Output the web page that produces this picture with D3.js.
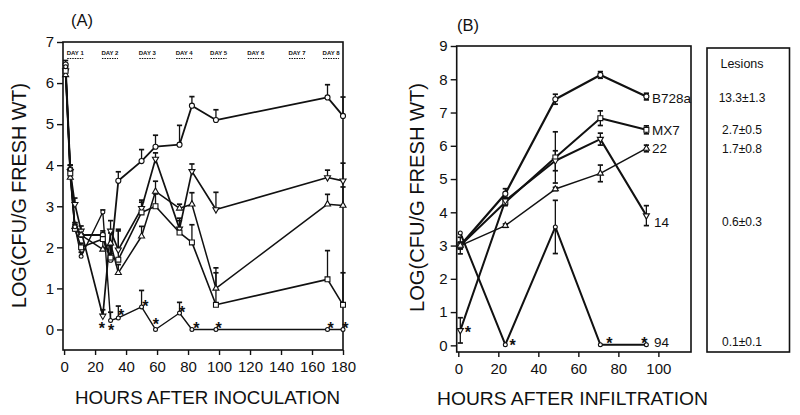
<!DOCTYPE html>
<html><head><meta charset="utf-8">
<script src="https://cdn.jsdelivr.net/npm/d3@7"></script>
<style>
body{margin:0;background:#fff;}
svg{display:block;font-family:"Liberation Sans",Arial,Helvetica,sans-serif;}
</style></head><body>
<svg id="chart" width="800" height="415"></svg>
<script>
// ---------------- DATA ----------------
// Panel A: hours after inoculation
const timesA = [1, 4, 7, 11, 25, 30, 35, 50, 59, 74.5, 82.5, 98, 170, 180];
const aB728a    = [6.45, 3.9, 2.45, 2.3, 2.3, 1.7, 3.62, 4.1, 4.45, 4.5, 5.45, 5.1, 5.65, 5.2];
const aB728aErr = [0.1, 0.1, 0.1, 0.1, 0.1, 0.15, 0.22, 0.28, 0.28, 0.47, 0.22, 0.25, 0.31, 0.46];
const a14       = [6.3, 3.85, 3.05, 2.4, 0.33, 2.4, 1.94, 2.95, 4.15, 2.45, 3.85, 2.92, 3.7, 3.62];
const a14Err    = [0.1, 0.15, 0.15, 0.12, 0.15, 0.25, 0.5, 0.2, 0.15, 0.2, 0.18, 0.42, 0.18, 0.43];
const a22       = [6.2, 3.7, 2.5, 2.3, 1.95, 2.1, 1.38, 2.27, 3.36, 2.95, 3.05, 1.0, 3.05, 3.02];
const a22Err    = [0.1, 0.1, 0.1, 0.12, 0.2, 0.25, 0.2, 0.24, 0.25, 0.1, 0.28, 0.5, 0.24, 0.45];
const aMX7      = [6.3, 3.8, 2.45, 2.0, 2.2, 1.75, 1.7, 2.85, 3.0, 2.36, 2.12, 0.6, 1.22, 0.6];
const aMX7Err   = [0.1, 0.1, 0.1, 0.1, 0.15, 0.3, 0.7, 0.25, 0.3, 0.35, 0.43, 0.78, 0.7, 0.78];
const a94       = [6.4, 3.9, 2.5, 1.78, 2.86, 0.22, 0.28, 0.55, 0, 0.4, 0, 0, 0, 0];
const a94Err    = [0.05, 0.1, 0.1, 0.1, 0.05, 0.2, 0.29, 0.4, 0, 0.26, 0, 0, 0, 0];
const starsA = [[24.4, 0.12], [30.4, 0.05], [36.8, 0.42], [52.5, 0.65], [59.2, 0.2],
                [76.2, 0.5], [85.3, 0.12], [99.8, 0.12], [172, 0.12], [181.5, 0.12]];
const dayLabels = ["DAY 1", "DAY 2", "DAY 3", "DAY 4", "DAY 5", "DAY 6", "DAY 7", "DAY 8"];
const dayHours  = [7.2, 29.6, 53.7, 77.5, 99.7, 123.7, 150.3, 172.3];
const ticksAx = [0, 20, 40, 60, 80, 100, 120, 140, 160, 180];
const ticksAy = [0, 1, 2, 3, 4, 5, 6, 7];

// Panel B: hours after infiltration
const timesB = [1, 23.5, 48.5, 71, 94];
const bB728a    = [3.0, 4.56, 7.4, 8.13, 7.48];
const bB728aErr = [0.1, 0.15, 0.15, 0.1, 0.1];
const bMX7      = [3.0, 4.3, 5.65, 6.83, 6.48];
const bMX7Err   = [0.25, 0.1, 0.77, 0.22, 0.12];
const b22       = [3.0, 3.6, 4.7, 5.17, 5.92];
const b22Err    = [0.1, 0.05, 0.05, 0.25, 0.1];
const b14       = [0.45, 4.35, 5.55, 6.2, 3.9];
const b14Err    = [0.38, 0.1, 0.3, 0.18, 0.3];
const b94       = [3.38, 0.02, 3.56, 0.02, 0.02];
const b94Err    = [0, 0, 0.8, 0, 0];
const starsB = [[4.8, 0.48], [27.2, 0.1], [75.5, 0.17], [93.0, 0.17]];
const strainLabels = ["B728a", "MX7", "22", "14", "94"];
const lesions = ["13.3\u00b11.3", "2.7\u00b10.5", "1.7\u00b10.8", "0.6\u00b10.3", "0.1\u00b10.1"];
const ticksBx = [0, 20, 40, 60, 80, 100];
const ticksBy = [0, 1, 2, 3, 4, 5, 6, 7, 8, 9];

// ---------------- DRAW ----------------
const svg = d3.select("#chart");
const triDown = { draw(ctx, size) { const s = Math.sqrt(size / (Math.sqrt(3) / 4)); const h = s * Math.sqrt(3) / 2;
  ctx.moveTo(-s / 2, -h / 3); ctx.lineTo(s / 2, -h / 3); ctx.lineTo(0, 2 * h / 3); ctx.closePath(); } };
const triUp = { draw(ctx, size) { const s = Math.sqrt(size / (Math.sqrt(3) / 4)); const h = s * Math.sqrt(3) / 2;
  ctx.moveTo(-s / 2, h / 3); ctx.lineTo(s / 2, h / 3); ctx.lineTo(0, -2 * h / 3); ctx.closePath(); } };

function panel(cfg) {
  const g = svg.append("g");
  const x = d3.scaleLinear().domain(cfg.xd).range(cfg.xr);
  const y = d3.scaleLinear().domain(cfg.yd).range(cfg.yr);
  g.append("rect").attr("x", cfg.xr[0]).attr("y", cfg.yr[1])
    .attr("width", cfg.xr[1] - cfg.xr[0]).attr("height", cfg.yr[0] - cfg.yr[1])
    .attr("fill", "none").attr("stroke", "#111").attr("stroke-width", 1.6);
  const ax = g.append("g").attr("transform", `translate(0,${cfg.yr[0]})`)
    .call(d3.axisBottom(x).tickValues(cfg.tx).tickSize(5).tickPadding(6).tickSizeOuter(0));
  const ay = g.append("g").attr("transform", `translate(${cfg.xr[0]},0)`)
    .call(d3.axisLeft(y).tickValues(cfg.ty).tickSize(6).tickPadding(3).tickSizeOuter(0));
  [ax, ay].forEach(a => {
    a.select(".domain").remove();
    a.selectAll("line").attr("stroke", "#111").attr("stroke-width", 1.4);
    a.selectAll("text").attr("fill", "#111").style("font-size", "15px")
      .style("font-family", '"Liberation Sans",Arial,sans-serif');
  });
  const line = d3.line().x(d => x(d[0])).y(d => y(d[1]));
  cfg.series.forEach(s => {
    const pts = cfg.times.map((t, i) => [t, s.v[i], s.e[i]]);
    g.append("path").datum(pts).attr("d", line).attr("fill", "none")
      .attr("stroke", "#111").attr("stroke-width", s.w).attr("stroke-linejoin", "round");
  });
  cfg.series.forEach(s => {
    const pts = cfg.times.map((t, i) => [t, s.v[i], s.e[i]]).filter(d => d[2] > 0);
    const eg = g.append("g").attr("stroke", "#111").attr("stroke-width", 1.3);
    pts.forEach(d => {
      const lo = cfg.both ? d[1] - d[2] : d[1];
      const hi = d[1] + d[2];
      eg.append("line").attr("x1", x(d[0])).attr("x2", x(d[0])).attr("y1", y(lo)).attr("y2", y(hi));
      eg.append("line").attr("x1", x(d[0]) - 2.6).attr("x2", x(d[0]) + 2.6).attr("y1", y(hi)).attr("y2", y(hi)).attr("stroke-width", 1.7);
      if (cfg.both) eg.append("line").attr("x1", x(d[0]) - 2.6).attr("x2", x(d[0]) + 2.6).attr("y1", y(lo)).attr("y2", y(lo)).attr("stroke-width", 1.7);
    });
  });
  cfg.series.forEach(s => {
    const pts = cfg.times.map((t, i) => [t, s.v[i]]);
    g.selectAll(null).data(pts).join("path")
      .attr("transform", d => `translate(${x(d[0])},${y(d[1])})`)
      .attr("d", d3.symbol().type(s.sym).size(s.size))
      .attr("fill", "#fff").attr("stroke", "#111").attr("stroke-width", 1.1);
  });
  g.selectAll(null).data(cfg.stars).join("text")
    .attr("x", d => x(d[0])).attr("y", d => y(d[1]) + 9)
    .attr("text-anchor", "middle").style("font-size", "16px").style("font-weight", "bold")
    .attr("fill", "#111").text("*");
  return { g, x, y };
}

const A = panel({
  xd: [-0.7, 180], xr: [63, 343], yd: [-0.5, 7], yr: [350, 42],
  tx: ticksAx, ty: ticksAy, times: timesA, both: false, stars: starsA,
  series: [
    { v: aB728a, e: aB728aErr, sym: d3.symbolCircle, size: 20, w: 1.8 },
    { v: a14, e: a14Err, sym: triDown, size: 16, w: 1.7 },
    { v: a22, e: a22Err, sym: triUp, size: 16, w: 1.5 },
    { v: aMX7, e: aMX7Err, sym: d3.symbolSquare, size: 24, w: 1.6 },
    { v: a94, e: a94Err, sym: d3.symbolCircle, size: 12, w: 1.4 }
  ]
});

const B = panel({
  xd: [-0.8, 116.3], xr: [456.7, 691], yd: [-0.2, 9], yr: [352, 46],
  tx: ticksBx, ty: ticksBy, times: timesB, both: true, stars: starsB,
  series: [
    { v: bB728a, e: bB728aErr, sym: d3.symbolCircle, size: 20, w: 2.2 },
    { v: bMX7, e: bMX7Err, sym: d3.symbolSquare, size: 24, w: 2.0 },
    { v: b22, e: b22Err, sym: triUp, size: 16, w: 1.5 },
    { v: b14, e: b14Err, sym: triDown, size: 16, w: 2.0 },
    { v: b94, e: b94Err, sym: d3.symbolCircle, size: 12, w: 2.0 }
  ]
});

// day labels (panel A)
dayLabels.forEach((lab, i) => {
  const cx = A.x(dayHours[i]);
  A.g.append("text").attr("x", cx).attr("y", 55).attr("text-anchor", "middle")
    .style("font-size", "6px").style("font-weight", "bold").attr("fill", "#111").text(lab);
  A.g.append("line").attr("x1", cx - 8).attr("x2", cx + 8).attr("y1", 58.5).attr("y2", 58.5)
    .attr("stroke", "#111").attr("stroke-width", 1.1).attr("stroke-dasharray", "1.5,1");
});

// strain labels and lesions (panel B)
const lastVals = [bB728a[4], bMX7[4], b22[4], b14[4], b94[4]];
const labOffsets = [1, 0, 0, 6, -3];
strainLabels.forEach((lab, i) => {
  const yy = B.y(lastVals[i]) + labOffsets[i];
  B.g.append("text").attr("x", lab === "14" || lab === "94" ? 654 : 652).attr("y", yy + 5)
    .style("font-size", "13.5px").attr("fill", "#111").text(lab);
  svg.append("text").attr("x", 742).attr("y", yy + 4.5).attr("text-anchor", "middle")
    .style("font-size", "12px").attr("fill", "#111").text(lesions[i]);
});
svg.append("rect").attr("x", 707).attr("y", 48).attr("width", 82.5).attr("height", 304)
  .attr("fill", "none").attr("stroke", "#111").attr("stroke-width", 1.6);
svg.append("text").attr("x", 742).attr("y", 67.5).attr("text-anchor", "middle")
  .style("font-size", "12.5px").attr("fill", "#111").text("Lesions");

// titles
svg.append("text").attr("x", 71).attr("y", 26).style("font-size", "16.5px").attr("fill", "#111").text("(A)");
svg.append("text").attr("x", 457).attr("y", 31).style("font-size", "16.5px").attr("fill", "#111").text("(B)");
svg.append("text").attr("x", 207.5).attr("y", 403.5).attr("text-anchor", "middle")
  .style("font-size", "18.5px").attr("textLength", 265).attr("lengthAdjust", "spacingAndGlyphs")
  .attr("fill", "#111").text("HOURS AFTER INOCULATION");
svg.append("text").attr("x", 572.5).attr("y", 405).attr("text-anchor", "middle")
  .style("font-size", "18.5px").attr("textLength", 271).attr("lengthAdjust", "spacingAndGlyphs")
  .attr("fill", "#111").text("HOURS AFTER INFILTRATION");
svg.append("text").attr("transform", "translate(26,195.5) rotate(-90)").attr("text-anchor", "middle")
  .style("font-size", "19.5px").attr("textLength", 225).attr("lengthAdjust", "spacingAndGlyphs")
  .attr("fill", "#111").text("LOG(CFU/G FRESH WT)");
svg.append("text").attr("transform", "translate(424,197.5) rotate(-90)").attr("text-anchor", "middle")
  .style("font-size", "19.5px").attr("textLength", 229).attr("lengthAdjust", "spacingAndGlyphs")
  .attr("fill", "#111").text("LOG(CFU/G FRESH WT)");
</script>
</body></html>
